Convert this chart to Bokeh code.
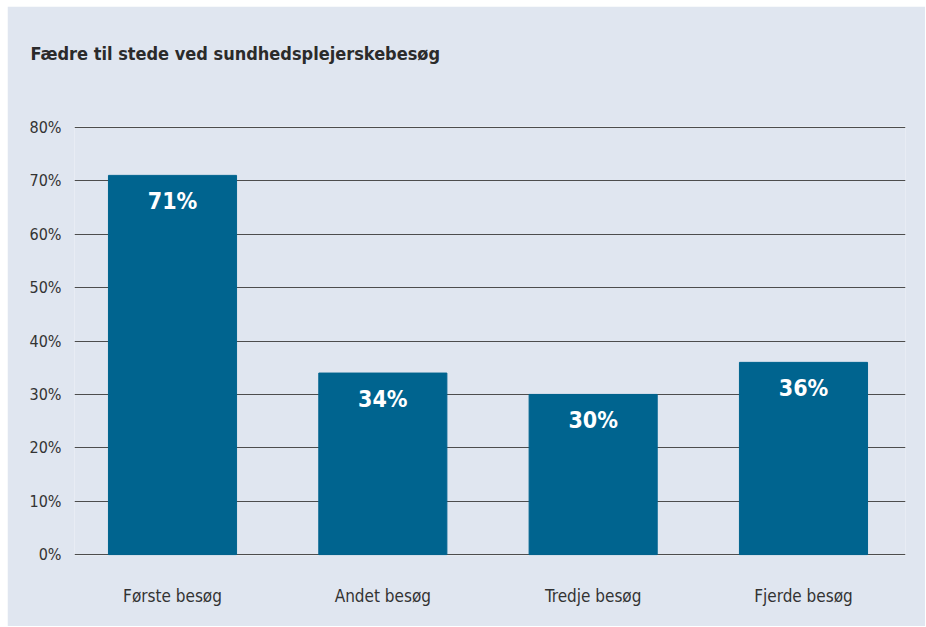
from bokeh.plotting import figure
from bokeh.models import Range1d, FixedTicker, ColumnDataSource, Title, Spacer
from bokeh.layouts import column, row
from bokeh.core.properties import value
from bokeh.embed import file_html
from bokeh.resources import INLINE

title_text = "Fædre til stede ved sundhedsplejerskebesøg"
categories = ["Første besøg", "Andet besøg", "Tredje besøg", "Fjerde besøg"]
values = [71, 34, 30, 36]
y_ticks = [0, 10, 20, 30, 40, 50, 60, 70, 80]

FONT = "DejaVu Sans Condensed"
BG = "#e0e6f0"
BAR = "#00648f"
TXT = "#2b2b2b"

xs = list(range(len(categories)))
src = ColumnDataSource(dict(x=xs, top=values,
                            lab=[f"{v}%" for v in values]))

p = figure(width=918, height=620, output_backend="svg", toolbar_location=None,
           x_range=Range1d(-0.466, 3.485), y_range=Range1d(-0.15, 80.15),
           min_border_left=67, min_border_right=20, min_border_top=120,
           min_border_bottom=71)
p.background_fill_color = BG
p.border_fill_color = BG
p.outline_line_color = None

# empty spacer title (closest to the frame), then the real title above it
p.add_layout(Title(text=" ", text_font_size="40px", text_font=FONT), "above")
p.add_layout(Title(text=title_text, text_font=FONT, text_font_size="18px",
                   text_font_style="bold", text_color=TXT, align="left",
                   offset=-44), "above")

p.vbar(x="x", top="top", bottom=0, width=0.609, color=BAR, source=src)
p.text(x="x", y="top", text="lab", source=src, text_align="center",
       text_baseline="top", y_offset=13, text_color="white",
       text_font=value(FONT), text_font_size="23px", text_font_style="bold")

p.xgrid.grid_line_color = None
p.ygrid.grid_line_color = "#4d4d4d"
p.ygrid.grid_line_width = 1
p.ygrid.ticker = FixedTicker(ticks=y_ticks)

p.yaxis.ticker = FixedTicker(ticks=y_ticks)
p.yaxis.major_label_overrides = {t_: f"{t_}%" for t_ in y_ticks}
p.yaxis.axis_line_color = None
p.yaxis.major_tick_line_color = None
p.yaxis.minor_tick_line_color = None
p.yaxis.major_label_standoff = 7
p.yaxis.major_label_text_font = FONT
p.yaxis.major_label_text_font_size = "16px"
p.yaxis.major_label_text_color = "#333333"

p.xaxis.ticker = FixedTicker(ticks=xs)
p.xaxis.major_label_overrides = {i: c for i, c in zip(xs, categories)}
p.xaxis.axis_line_color = None
p.xaxis.major_tick_line_color = None
p.xaxis.minor_tick_line_color = None
p.xaxis.major_label_standoff = 24
p.xaxis.major_label_text_font = FONT
p.xaxis.major_label_text_font_size = "17px"
p.xaxis.major_label_text_color = "#333333"

layout = column(Spacer(height=6), row(Spacer(width=7), p))
open("out.html", "w").write(file_html(layout, INLINE))
